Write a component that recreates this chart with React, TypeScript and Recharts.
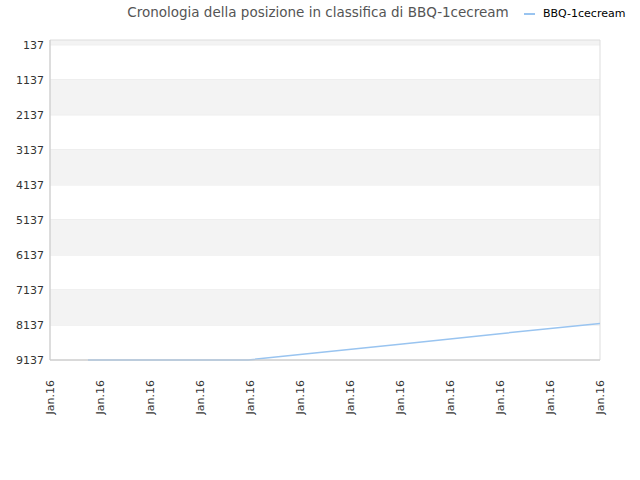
import React from 'react';
import {CartesianGrid, Line, LineChart, ReferenceArea, XAxis, YAxis} from 'recharts';

// x position in axis-tick units (0 = first "Jan.16" tick), rank
const pointX = [0.76, 3.96, 5, 7, 9, 11];
const ranks = [9137, 9137, 8980, 8690, 8385, 8095];
const xTicks = [0, 1, 2, 3, 4, 5, 6, 7, 8, 9, 10, 11];
const xLabel = 'Jan.16';
const yTicks = [137, 1137, 2137, 3137, 4137, 5137, 6137, 7137, 8137, 9137];
const shadedBands = [[0, 137], [1137, 2137], [3137, 4137], [5137, 6137], [7137, 8137]];
const seriesName = 'BBQ-1cecream';
const title = 'Cronologia della posizione in classifica di BBQ-1cecream';

const data = pointX.map((x, i) => ({x, rank: ranks[i]}));

const XTick = (props: any) => {
    const {x, y} = props;
    return (
        <text x={x} y={y + 12} transform={`rotate(-90, ${x}, ${y + 12})`} textAnchor="end" dy="0.35em"
              fontSize={11} fill="#333">{xLabel}</text>
    );
};

export default function App() {
    return (
        <div style={{position: 'absolute', left: 0, top: 0, width: 640, height: 480, fontFamily: '"DejaVu Sans", sans-serif'}}>
            <div style={{position: 'absolute', top: 4, left: 0, width: 636, textAlign: 'center', fontSize: 13.5, color: '#555'}}>
                {title}
            </div>
            <div style={{position: 'absolute', top: 7, left: 524, display: 'flex', alignItems: 'center', fontSize: 11, color: '#000'}}>
                <span style={{display: 'inline-block', width: 11, height: 2, background: '#99c4f0', marginRight: 8}}/>
                {seriesName}
            </div>
            <LineChart width={640} height={480} data={data} margin={{top: 40, right: 40, left: 0, bottom: 0}}>
                {shadedBands.map(([a, b]) => (
                    <ReferenceArea key={a} y1={a} y2={b} x1={0} x2={11} fill="#f3f3f3" fillOpacity={1} stroke="none" ifOverflow="visible"/>
                ))}
                <CartesianGrid vertical={false} stroke="#e3e3e3" strokeDasharray="" horizontalValues={yTicks}/>
                <ReferenceArea y1={0} y2={9137} x1={0} x2={11} fill="none" stroke="#dddddd" ifOverflow="visible"/>
                <XAxis dataKey="x" type="number" domain={[0, 11]} ticks={xTicks} interval={0} height={120}
                       tick={<XTick/>} tickLine={false} axisLine={{stroke: '#cccccc'}}/>
                <YAxis type="number" domain={[0, 9137]} reversed ticks={yTicks} interval={0} width={50}
                       tickLine={false} tickSize={4} tickMargin={2} axisLine={{stroke: '#cccccc'}}
                       tick={{fontSize: 11, fill: '#333'}}/>
                <Line type="linear" dataKey="rank" name={seriesName} stroke="#99c4f0" strokeWidth={1.5}
                      dot={false} activeDot={false} isAnimationActive={false}/>
            </LineChart>
        </div>
    );
}
